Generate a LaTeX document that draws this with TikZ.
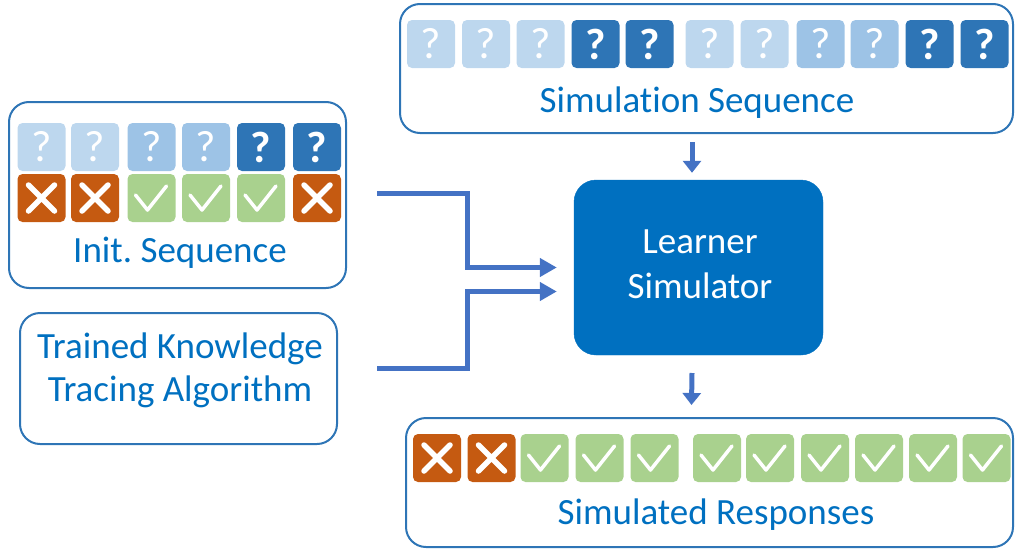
\documentclass[tikz,border=0pt]{standalone}
\usepackage{fontspec}
\setmainfont{Carlito}[Ligatures=NoCommon]
\usetikzlibrary{arrows.meta}
\definecolor{qlight}{HTML}{BDD7EE}
\definecolor{qmid}{HTML}{9DC3E6}
\definecolor{qdark}{HTML}{2E75B6}
\definecolor{wrongc}{HTML}{C55A11}
\definecolor{rightc}{HTML}{A9D18E}
\definecolor{labelc}{HTML}{0070C0}
\definecolor{framec}{HTML}{2E75B6}
\definecolor{flowc}{HTML}{4472C4}
\definecolor{simc}{HTML}{0070C0}
\begin{document}
\begin{tikzpicture}[x=1pt,y=-1pt,
  frame/.style={draw=framec, line width=2pt, rounded corners=20pt, inner sep=0pt},
  lbl/.style={text=labelc, font=\fontsize{37}{44}\selectfont, inner sep=0pt, anchor=base},
  tile/.style={minimum width=48pt, minimum height=48pt, rounded corners=5pt, inner sep=0pt,
               text=white, font=\fontsize{44}{44}\selectfont},
  light/.style={tile, fill=qlight},
  mid/.style={tile, fill=qmid},
  dark/.style={tile, fill=qdark, font=\fontsize{44}{44}\selectfont\bfseries},
  wrong/.style={tile, fill=wrongc},
  right/.style={tile, fill=rightc},
  crosspic/.pic={\draw[white, line width=5.5pt, line cap=round] (-13,-13) -- (13,13) (-13,13) -- (13,-13);},
  tickpic/.pic={\draw[white, line width=3.5pt, line cap=round, line join=round] (-16,-3) -- (-4,12) -- (15,-12);},
  flow/.style={draw=flowc, line width=5pt, -{Triangle[length=17pt,width=18pt]}},
  vflow/.style={draw=flowc, line width=5pt, -{Triangle[length=12pt,width=18pt]}}
]
\useasboundingbox (0,0) rectangle (1017,549);

% frames
\node[frame, minimum width=613pt, minimum height=129pt] (simseq) at (706.5,68.5) {};
\node[frame, minimum width=337pt, minimum height=186pt] (init) at (177.5,195) {};
\node[frame, minimum width=317pt, minimum height=131pt] (ktalg) at (178.5,378.5) {};
\node[frame, minimum width=607pt, minimum height=129pt] (resp) at (709.5,482.5) {};

% learner simulator
\node[fill=simc, draw=simc, rounded corners=22pt, minimum width=249pt, minimum height=175pt] (sim) at (698.5,267.5) {};
\node[text=white, font=\fontsize{37}{44}\selectfont, inner sep=0pt, anchor=base] (simA) at (700,253) {Learner};
\node[text=white, font=\fontsize{37}{44}\selectfont, inner sep=0pt, anchor=base] (simB) at (700,298) {Simulator};

% labels
\node[lbl] (simlbl) at (697,112) {Simulation Sequence};
\node[lbl] (initlbl) at (180,262) {Init.\ Sequence};
\node[lbl] (ktA) at (180,358) {Trained Knowledge};
\node[lbl] (ktB) at (180,401) {Tracing Algorithm};
\node[lbl] (resplbl) at (716,524) {Simulated Responses};

% simulation sequence tiles
\foreach \x/\s [count=\i] in {431/light,486/light,540.5/light,595.5/dark,649.5/dark,709.5/light,764.5/light,820.5/mid,874.5/mid,929.5/dark,984.5/dark}
  \node[\s] (q\i) at (\x,44) {?};

% init sequence: questions and responses
\foreach \x/\s [count=\i] in {41.5/light,95/light,151.5/mid,206/mid,261/dark,317/dark}
  \node[\s] (iq\i) at (\x,147) {?};
\foreach \x/\s [count=\i] in {41.5/wrong,95/wrong,151.5/right,206/right,261/right,317/wrong}
  \node[\s] (ir\i) at (\x,198) {};
\foreach \i in {1,2,6} \pic at (ir\i.center) {crosspic};
\foreach \i in {3,4,5} \pic at (ir\i.center) {tickpic};

% simulated responses
\foreach \x/\s [count=\i] in {437/wrong,491.5/wrong,544.5/right,599.5/right,654.5/right,717/right,770/right,825/right,879/right,933/right,986.5/right}
  \node[\s] (r\i) at (\x,458) {};
\foreach \i in {1,2} \pic at (r\i.center) {crosspic};
\foreach \i in {3,...,11} \pic at (r\i.center) {tickpic};

% connectors
\coordinate (fromInit) at (377,193);
\coordinate (fromKT) at (377,368);
\coordinate (toSim) at (692,142);
\coordinate (fromSim) at (692,373);
\draw[flow] (fromInit) -- (467,193) |- ([xshift=-17pt]sim.west);
\draw[flow] (fromKT) -- (467,368) |- ([shift={(-17,24)}]sim.west);
\draw[vflow] (toSim) -- ([shift={(-6.5,-7)}]sim.north);
\draw[vflow] (fromSim) -- ([shift={(-0.5,-12)}]resp.north -| toSim);
\end{tikzpicture}
\end{document}
